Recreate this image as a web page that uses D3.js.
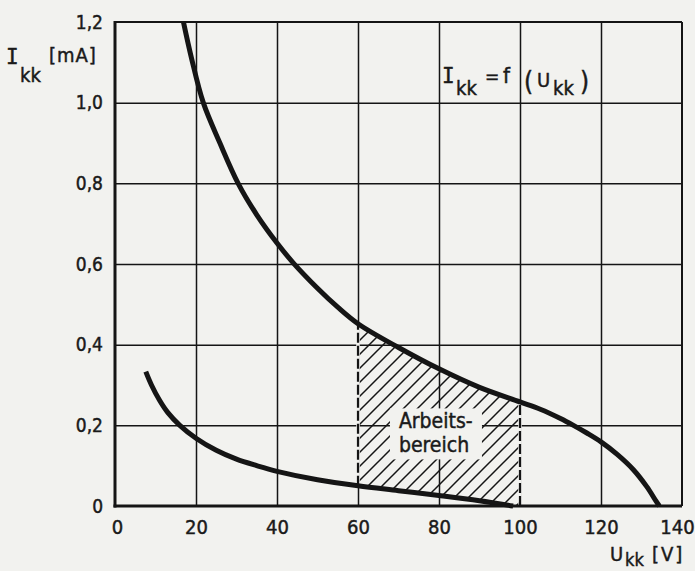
<!DOCTYPE html>
<html>
<head>
<meta charset="utf-8">
<script src="https://cdn.jsdelivr.net/npm/d3@7"></script>
<style>
  html, body { margin: 0; padding: 0; background: #f2f2ef; }
  svg { display: block; }
  text { fill: #1a1a1a; stroke: #1a1a1a; stroke-width: 0.45px; font-family: "DejaVu Sans Condensed", "DejaVu Sans", sans-serif; }
  .mono { font-family: "DejaVu Sans Mono", monospace; }
</style>
</head>
<body>
<div id="chart"></div>
<script>
// values: [U_kk in V, I_kk in mA]
const upperCurve = [
  [16.9, 1.2], [18.9, 1.11], [21.8, 1.0], [25.9, 0.9], [30.4, 0.8], [35, 0.722],
  [40, 0.652], [44, 0.603], [50, 0.54], [55, 0.493], [60, 0.452], [70, 0.393],
  [80, 0.34], [90, 0.294], [100, 0.258], [105, 0.24], [110, 0.217],
  [113.2, 0.2], [116.5, 0.181], [120, 0.159], [124, 0.128], [128, 0.09],
  [131.3, 0.048], [133.6, 0.012], [134.4, 0]
];
const lowerCurve = [
  [7.6, 0.333], [9, 0.3], [11, 0.262], [13, 0.232], [16, 0.2], [20, 0.168],
  [25, 0.138], [30, 0.116], [35, 0.1], [40, 0.086], [50, 0.065], [60, 0.05],
  [70, 0.038], [80, 0.026], [90, 0.013], [98.3, 0]
];
const workRange = [60, 100];
const xTicks = [0, 20, 40, 60, 80, 100, 120, 140];
const yTicks = [0, 0.2, 0.4, 0.6, 0.8, 1.0, 1.2];

const W = 695, H = 571;
const paper = '#f2f2ef', ink = '#151515';

const svg = d3.select('#chart').append('svg')
  .attr('width', W).attr('height', H);

const x = d3.scaleLinear().domain([0, 140]).range([115, 682]);
const y = d3.scaleLinear().domain([0, 1.2]).range([506, 22]);

const defs = svg.append('defs');

const pat = defs.append('pattern')
  .attr('id', 'hatch')
  .attr('patternUnits', 'userSpaceOnUse')
  .attr('width', 14).attr('height', 14);
pat.append('path')
  .attr('d', 'M0,14 L14,0 M-4,4 L4,-4 M10,18 L18,10')
  .attr('stroke', ink).attr('stroke-width', 1.5);

const line = d3.line().x(d => x(d[0])).y(d => y(d[1])).curve(d3.curveCatmullRom.alpha(0.5));
const areaBelow = d3.area().x(d => x(d[0])).y0(y(0)).y1(d => y(d[1])).curve(d3.curveCatmullRom.alpha(0.5));

// mask: under upper curve minus under lower curve, limited to working range
const mask = defs.append('mask').attr('id', 'workMask');
mask.append('path').attr('d', areaBelow(upperCurve)).attr('fill', 'white');
mask.append('path').attr('d', areaBelow(lowerCurve)).attr('fill', 'black');
defs.append('clipPath').attr('id', 'workClip')
  .append('rect')
  .attr('x', x(workRange[0])).attr('y', y(1.2))
  .attr('width', x(workRange[1]) - x(workRange[0]))
  .attr('height', y(0) - y(1.2));

// grid
const grid = svg.append('g');
grid.append('g')
  .attr('transform', `translate(0,${y(0)})`)
  .call(d3.axisBottom(x).tickValues(xTicks.slice(1, -1)).tickSize(y(1.2) - y(0)).tickFormat(''))
  .call(g => g.select('.domain').remove())
  .call(g => g.selectAll('line').attr('stroke', ink).attr('stroke-width', 1.5));
grid.append('g')
  .attr('transform', `translate(${x(0)},0)`)
  .call(d3.axisLeft(y).tickValues(yTicks.slice(1, -1)).tickSize(x(0) - x(140)).tickFormat(''))
  .call(g => g.select('.domain').remove())
  .call(g => g.selectAll('line').attr('stroke', ink).attr('stroke-width', 1.5));

// frame
svg.append('line').attr('x1', x(0)).attr('x2', x(140)).attr('y1', y(1.2)).attr('y2', y(1.2))
  .attr('stroke', ink).attr('stroke-width', 2);
svg.append('line').attr('x1', x(140)).attr('x2', x(140)).attr('y1', y(1.2)).attr('y2', y(0))
  .attr('stroke', ink).attr('stroke-width', 2);

// hatched working area
svg.append('g').attr('clip-path', 'url(#workClip)')
  .append('rect')
  .attr('x', 0).attr('y', 0).attr('width', W).attr('height', H)
  .attr('fill', 'url(#hatch)')
  .attr('mask', 'url(#workMask)');

// dashed borders of the working area
workRange.forEach(v => {
  const top = upperCurve.find(d => d[0] === v)[1];
  const bot = lowerCurve.find(d => d[0] === v);
  const y0 = bot ? bot[1] : 0;
  svg.append('line')
    .attr('x1', x(v)).attr('x2', x(v)).attr('y1', y(y0)).attr('y2', y(top))
    .attr('stroke', paper).attr('stroke-width', 3.5);
  svg.append('line')
    .attr('x1', x(v)).attr('x2', x(v)).attr('y1', y(y0)).attr('y2', y(top))
    .attr('stroke', ink).attr('stroke-width', 2.2)
    .attr('stroke-dasharray', '10,3');
});

// label box inside the working area
svg.append('rect')
  .attr('x', x(79) - 45).attr('y', y(0.18) - 25)
  .attr('width', 92).attr('height', 51)
  .attr('fill', paper);
svg.append('text').attr('x', x(79) - 36).attr('y', y(0.18) - 5)
  .style('font-size', '21px').text('Arbeits-');
svg.append('text').attr('x', x(79) - 36).attr('y', y(0.18) + 19)
  .style('font-size', '21px').text('bereich');

// curves
[upperCurve, lowerCurve].forEach(c => {
  svg.append('path')
    .attr('d', line(c))
    .attr('fill', 'none')
    .attr('stroke', ink)
    .attr('stroke-width', 5);
});

// axes
const fmt = d => d === 0 ? '0' : d3.format('.1f')(d).replace('.', ',');
svg.append('g')
  .attr('transform', `translate(${x(0)},0)`)
  .call(d3.axisLeft(y).tickValues(yTicks).tickSize(0).tickPadding(12).tickFormat(fmt))
  .call(g => g.select('.domain').remove())
  .call(g => g.selectAll('text').style('font-size', '19px').attr('fill', '#1a1a1a'));
svg.append('g')
  .attr('transform', `translate(0,${y(0)})`)
  .call(d3.axisBottom(x).tickValues(xTicks).tickSize(0).tickPadding(14).tickFormat(d => String(d)))
  .call(g => g.select('.domain').remove())
  .call(g => g.selectAll('text').style('font-size', '20px').attr('fill', '#1a1a1a')
    .attr('dx', d => d === 140 ? -5 : d === 0 ? 2 : 0));

svg.append('line').attr('x1', x(0)).attr('x2', x(0)).attr('y1', y(1.2) - 1).attr('y2', y(0) + 1.5)
  .attr('stroke', ink).attr('stroke-width', 3);
svg.append('line').attr('x1', x(0) - 1.5).attr('x2', x(140)).attr('y1', y(0)).attr('y2', y(0))
  .attr('stroke', ink).attr('stroke-width', 3);

// axis titles
svg.append('text').attr('class', 'mono').attr('x', 6).attr('y', 64).style('font-size', '21px').text('I');
svg.append('text').attr('x', 20).attr('y', 82).style('font-size', '20px').text('kk');
svg.append('text').attr('x', 49).attr('y', 62).style('font-size', '20px').style('letter-spacing', '1px').text('[mA]');

svg.append('text').attr('x', 610).attr('y', 561).style('font-size', '20px').text('U');
svg.append('text').attr('x', 625).attr('y', 566).style('font-size', '18px').text('kk');
svg.append('text').attr('x', 652).attr('y', 561).style('font-size', '20px').style('letter-spacing', '2px').text('[V]');

// formula
svg.append('text').attr('class', 'mono').attr('x', 442).attr('y', 83).style('font-size', '21px').text('I');
svg.append('text').attr('x', 456).attr('y', 95).style('font-size', '20px').text('kk');
svg.append('text').attr('x', 485).attr('y', 83).style('font-size', '19px').text('=');
svg.append('text').attr('x', 503).attr('y', 83).style('font-size', '22px').text('f');
svg.append('text').attr('x', 524).attr('y', 90).style('font-size', '26px').text('(');
svg.append('text').attr('x', 537).attr('y', 87).style('font-size', '20px').text('U');
svg.append('text').attr('x', 553).attr('y', 95).style('font-size', '20px').text('kk');
svg.append('text').attr('x', 580).attr('y', 90).style('font-size', '26px').text(')');
</script>
</body>
</html>
